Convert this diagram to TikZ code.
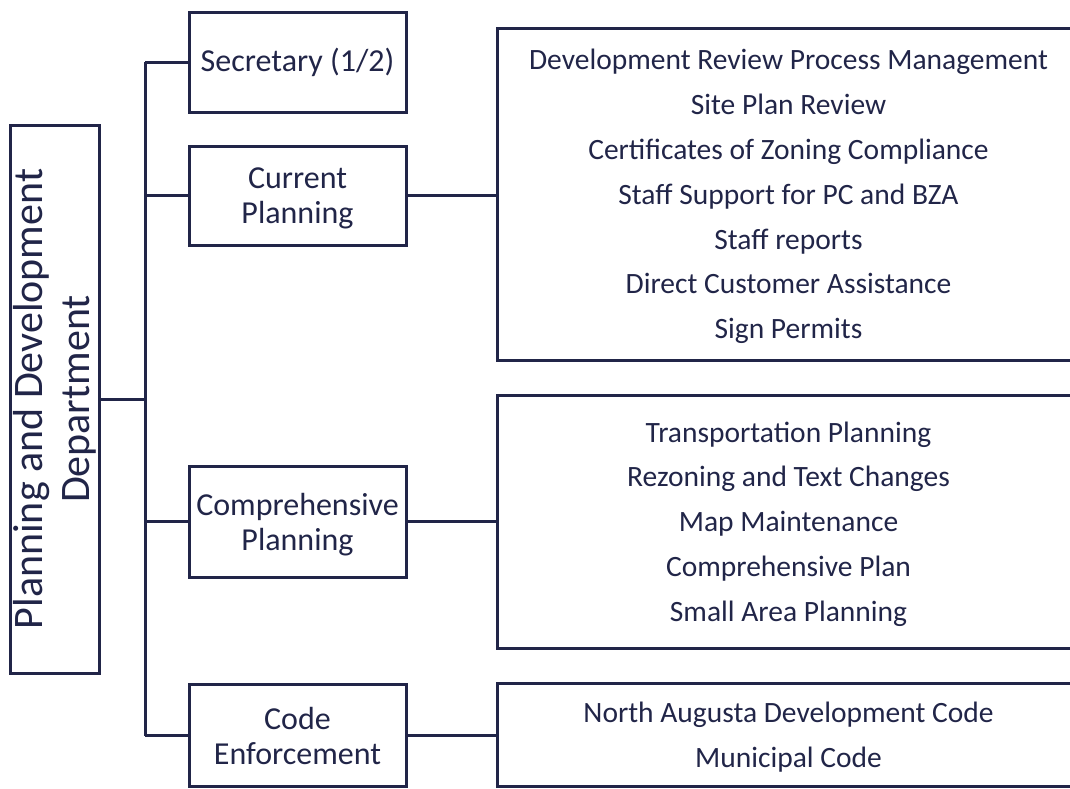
\documentclass[tikz,border=0pt]{standalone}
\usepackage{fontspec}
\setmainfont{Carlito}
\usetikzlibrary{positioning}

\definecolor{orgnavy}{RGB}{33,37,72}

\tikzset{
  dept/.style={draw=orgnavy, line width=3pt, text=orgnavy, rotate=90,
    minimum width=548pt, minimum height=89pt, inner sep=0pt, align=center,
    font=\fontsize{42}{47}\selectfont},
  unit/.style={draw=orgnavy, line width=3pt, text=orgnavy, minimum width=217pt,
    inner sep=0pt, align=center, font=\fontsize{32}{35}\selectfont},
  duties/.style={draw=orgnavy, line width=3pt, text=orgnavy, minimum width=583pt,
    inner sep=0pt, align=center, text depth=0pt, font=\fontsize{29.5}{44.8}\selectfont},
  link/.style={draw=orgnavy, line width=3pt},
}

\begin{document}
\begin{tikzpicture}[x=1pt,y=-1pt]
\useasboundingbox (0,0) rectangle (1070,788);
\clip (0,0) rectangle (1070,788);

% department head
\node[dept] (head) at (54.5,399) {Planning and Development\\Department};
\coordinate (trunk) at (145,399);

% divisions
\node[unit, minimum height=100pt] (sec) at (297.5,62) {Secretary (1/2)};
\node[unit, minimum height=99pt, text depth=0pt] (cur) at (297.5,195.5) {Current\\Planning};
\node[unit, minimum height=111pt, text depth=0pt] (comp) at (297.5,521.5) {Comprehensive\\Planning};
\node[unit, minimum height=102pt] (code) at (297.5,735.5) {Code\\Enforcement};

% what each division does
\node[duties, minimum height=332pt] (curjobs) at (788.5,194) {Development Review Process Management\\Site Plan Review\\Certificates of Zoning Compliance\\Staff Support for PC and BZA\\Staff reports\\Direct Customer Assistance\\Sign Permits};
\node[duties, minimum height=253pt] (compjobs) at (788.5,521.5) {Transportation Planning\\Rezoning and Text Changes\\Map Maintenance\\Comprehensive Plan\\Small Area Planning};
\node[duties, minimum height=103pt] (codejobs) at (788.5,734.5) {North Augusta Development Code\\Municipal Code};

% connectors
\draw[link] (head.south) -- (trunk);
\draw[link] (sec.west -| trunk) -- (code.west -| trunk);
\foreach \n in {sec,cur,comp,code}
  \draw[link] (\n.west) -- (\n.west -| trunk);
\draw[link] (cur.east) -- (cur.east -| curjobs.west);
\draw[link] (comp.east) -- (comp.east -| compjobs.west);
\draw[link] (code.east) -- (code.east -| codejobs.west);
\end{tikzpicture}
\end{document}
